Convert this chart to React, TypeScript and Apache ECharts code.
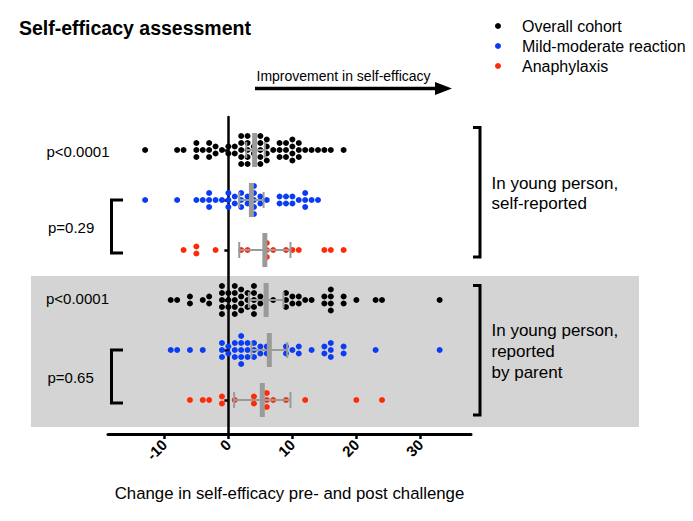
import React, { useEffect, useRef } from "react";
import * as echarts from "echarts";

// ---- Data ----
const rowNames = [
  "Overall cohort (self)",
  "Mild-moderate (self)",
  "Anaphylaxis (self)",
  "Overall cohort (parent)",
  "Mild-moderate (parent)",
  "Anaphylaxis (parent)",
];
const groupNames = ["Overall cohort", "Mild-moderate reaction", "Anaphylaxis"];
const groupColors = ["#000000", "#0a3cf5", "#ff2a0a"];

const overallSelf = [-13, -8, -7, -5, -5, -5, -4, -3, -3, -3, -2, -2, -1, 0, 0, 1, 1, 2, 2, 2, 2, 2, 3, 3, 3, 3, 3, 4, 4, 5, 5, 5, 5, 5, 6, 6, 6, 6, 7, 8, 8, 8, 9, 9, 9, 10, 10, 10, 10, 11, 11, 11, 12, 13, 14, 15, 16, 18];
const mildSelf = [-13, -8, -5, -4, -3, -3, -3, -2, -1, 0, 0, 0, 1, 1, 2, 2, 2, 3, 3, 4, 4, 4, 4, 4, 5, 5, 6, 8, 8, 9, 9, 10, 10, 11, 12, 12, 12, 13, 14];
const anaSelf = [-7, -5, -5, -2, 2, 3, 6, 6, 6, 7, 9, 10, 11, 15, 16, 18];
const overallParent = [-9, -8, -6, -6, -4, -3, -3, -1, -1, -1, -1, -1, 0, 0, 0, 1, 1, 1, 1, 1, 2, 2, 2, 2, 3, 3, 3, 4, 4, 4, 4, 4, 5, 5, 7, 9, 9, 9, 10, 10, 11, 11, 12, 13, 15, 15, 16, 16, 16, 16, 18, 18, 20, 23, 24, 33];
const mildParent = [-9, -8, -6, -4, -1, -1, -1, 0, 0, 1, 1, 1, 2, 2, 2, 2, 2, 3, 3, 3, 4, 4, 4, 5, 5, 6, 6, 9, 9, 10, 11, 11, 13, 15, 15, 16, 16, 16, 18, 18, 23, 33];
const anaParent = [-6, -4, -3, -1, -1, 1, 4, 4, 6, 6, 6, 7, 9, 12, 20, 24];

const rowValues = [overallSelf, mildSelf, anaSelf, overallParent, mildParent, anaParent];
const rowGroup = [0, 1, 2, 0, 1, 2];

const medians = [4.1, 3.6, 5.7, 5.9, 6.4, 5.3];
const errLow = [2.8, 1.7, 1.7, 3.2, 3.6, 0.9];
const errHigh = [5.7, 5.5, 9.7, 8.6, 9.2, 9.7];

const xTicks = [-10, 0, 10, 20, 30];
const pLabels = ["p<0.0001", "p=0.29", "p<0.0001", "p=0.65"];

const FONT = "Liberation Sans, Arial, sans-serif";

function swarm(values: number[], row: number, step: number) {
  const counts = new Map<number, number>();
  values.forEach((v) => counts.set(v, (counts.get(v) || 0) + 1));
  const pts: number[][] = [];
  counts.forEach((n, v) => {
    for (let i = 0; i < n; i++) pts.push([v, row + (i - (n - 1) / 2) * step]);
  });
  return pts;
}

export default function App() {
  const ref = useRef<HTMLDivElement>(null);
  useEffect(() => {
    if (!ref.current) return;
    const chart = echarts.init(ref.current, undefined, { renderer: "svg" });
    const step = 0.14;
    const scatterSeries = groupNames.map((name, g) => {
      const data: number[][] = [];
      rowValues.forEach((vals, r) => {
        if (rowGroup[r] === g) data.push(...swarm(vals, r, step));
      });
      return {
        type: "scatter",
        name,
        data,
        symbol: "circle",
        symbolSize: 6,
        itemStyle: { color: groupColors[g], opacity: 1 },
        z: 2,
      };
    });
    const barData = rowNames.map((_, r) => [medians[r], errLow[r], errHigh[r], r]);
    const gray = "#9a9a9a";
    const text = (x: number, y: number, t: string, size = 15, extra: any = {}) => ({
      type: "text",
      x,
      y,
      style: { text: t, fontSize: size, fontFamily: FONT, fill: "#000", verticalAlign: "middle", ...extra },
    });
    const bracket = (pts: number[][]) => ({
      type: "polyline",
      shape: { points: pts },
      style: { stroke: "#000", lineWidth: 3, fill: null },
    });
    chart.setOption({
      animation: false,
      textStyle: { fontFamily: FONT },
      title: {
        text: "Self-efficacy assessment",
        left: 14,
        top: 13,
        textStyle: { fontSize: 19.5, fontWeight: "bold", color: "#000", fontFamily: FONT },
      },
      legend: {
        data: groupNames,
        orient: "vertical",
        left: 490,
        top: 13,
        icon: "circle",
        itemWidth: 38,
        itemHeight: 6,
        itemGap: 4,
        textStyle: { fontSize: 16, color: "#000", fontFamily: FONT, lineHeight: 16 },
      },
      grid: { left: 108, top: 117, width: 363, height: 317, containLabel: false, outerBoundsMode: "none" },
      xAxis: {
        type: "value",
        min: -18.8,
        max: 37.9,
        name: "Change in self-efficacy pre- and post challenge",
        nameLocation: "middle",
        nameGap: 51,
        nameTextStyle: { fontSize: 16.8, color: "#000", fontFamily: FONT },
        axisLine: { onZero: false, lineStyle: { color: "#000", width: 3 } },
        axisTick: { show: true, length: 5, customValues: xTicks, lineStyle: { color: "#000", width: 2.5 } },
        axisLabel: {
          customValues: xTicks,
          rotate: 45,
          margin: 8,
          fontSize: 15,
          fontWeight: "bold",
          color: "#000",
          fontFamily: FONT,
        },
        splitLine: { show: false },
      },
      yAxis: {
        type: "value",
        min: -0.66,
        max: 5.68,
        inverse: true,
        axisLine: { show: true, onZero: true, lineStyle: { color: "#000", width: 2.5 } },
        axisTick: { show: true, length: 4, customValues: [0, 1, 2, 3, 4, 5], lineStyle: { color: "#000", width: 2.5 } },
        axisLabel: { show: false },
        splitLine: { show: false },
      },
      graphic: [
        { type: "rect", z: -10, shape: { x: 31, y: 276, width: 608, height: 151 }, style: { fill: "#d4d4d4" } },
        text(256.5, 76, "Improvement in self-efficacy", 14),
        { type: "line", shape: { x1: 255, y1: 88.5, x2: 438, y2: 88.5 }, style: { stroke: "#000", lineWidth: 3.5 } },
        { type: "polygon", shape: { points: [[435, 82], [452, 88.5], [435, 95]] }, style: { fill: "#000" } },
        text(46.5, 151, pLabels[0], 15),
        text(48, 227, pLabels[1], 15),
        text(46, 298, pLabels[2], 15),
        text(47.5, 377, pLabels[3], 15),
        bracket([[123, 200], [111.5, 200], [111.5, 253], [123, 253]]),
        bracket([[123, 350], [111.5, 350], [111.5, 403], [123, 403]]),
        bracket([[473, 127.5], [480, 127.5], [480, 257], [473, 257]]),
        bracket([[473, 285.5], [480, 285.5], [480, 415], [473, 415]]),
        text(491.5, 183, "In young person,", 17),
        text(491.5, 203.5, "self-reported", 17),
        text(491.5, 330, "In young person,", 17),
        text(491.5, 351, "reported", 17),
        text(491.5, 372, "by parent", 17),
      ],
      series: [
        ...scatterSeries,
        {
          type: "custom",
          name: "Median",
          data: barData,
          encode: { x: [0, 1, 2], y: 3 },
          z: 4,
          renderItem: (params: any, api: any) => {
            const m = api.value(0);
            const lo = api.value(1);
            const hi = api.value(2);
            const r = api.value(3);
            const c = api.coord([m, r]);
            const l = api.coord([lo, r]);
            const h = api.coord([hi, r]);
            const ls = { stroke: gray, lineWidth: 2 };
            return {
              type: "group",
              children: [
                { type: "line", shape: { x1: l[0], y1: c[1], x2: h[0], y2: c[1] }, style: ls },
                { type: "line", shape: { x1: l[0], y1: c[1] - 8, x2: l[0], y2: c[1] + 8 }, style: ls },
                { type: "line", shape: { x1: h[0], y1: c[1] - 8, x2: h[0], y2: c[1] + 8 }, style: ls },
                { type: "rect", shape: { x: c[0] - 2.5, y: c[1] - 17, width: 5, height: 34 }, style: { fill: gray } },
              ],
            };
          },
        },
      ],
    });
    return () => chart.dispose();
  }, []);
  return <div ref={ref} style={{ position: "absolute", left: 0, top: 0, width: 693, height: 521 }} />;
}
